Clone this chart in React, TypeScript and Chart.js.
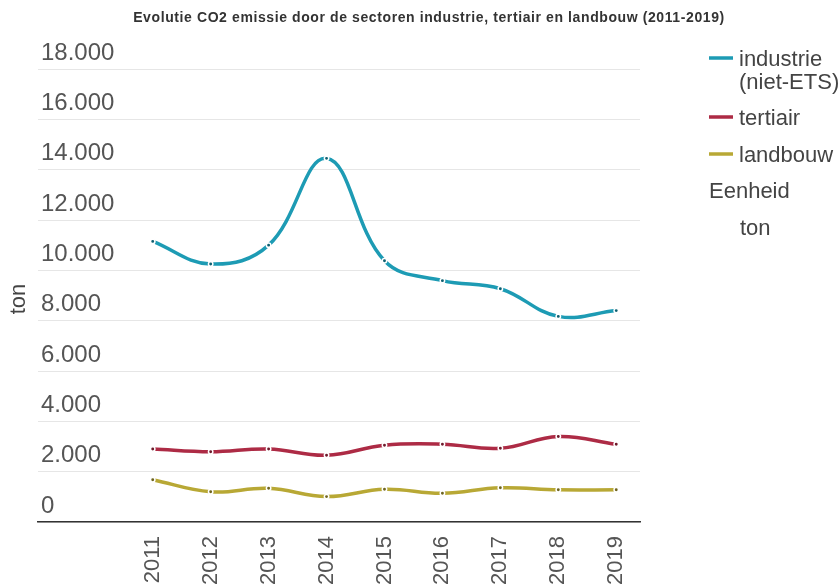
import React, { useEffect, useRef } from "react";
import { Chart, registerables } from "chart.js";

Chart.register(...registerables);

// Emissions per sector, in tonnes CO2
const years = [2011, 2012, 2013, 2014, 2015, 2016, 2017, 2018, 2019];
const industrie = [11150, 10250, 11000, 14450, 10380, 9590, 9270, 8170, 8400];
const tertiair = [2900, 2790, 2900, 2650, 3050, 3090, 2930, 3400, 3090];
const landbouw = [1680, 1200, 1340, 1010, 1300, 1140, 1360, 1280, 1280];
const yTicks = [0, 2000, 4000, 6000, 8000, 10000, 12000, 14000, 16000, 18000];

const seriesNames = ["industrie (niet-ETS)", "tertiair", "landbouw"];
const seriesColors = ["#1d9bb4", "#ad2b45", "#b8a835"];
const pointColors = ["#0f5f70", "#6e1a2b", "#6e6420"];

const titleText =
  "Evolutie CO2 emissie door de sectoren industrie, tertiair en landbouw (2011-2019)";
const unitHeading = "Eenheid";
const unitText = "ton";

const FONT = "'Liberation Sans', Arial, Helvetica, sans-serif";

const fmtThousands = (v: number) =>
  String(Math.round(v)).replace(/\B(?=(\d{3})+(?!\d))/g, ".");

const decorPlugin = {
  id: "decor",
  afterDraw(chart: Chart) {
    const ctx = chart.ctx as any;
    ctx.save();

    // title
    ctx.font = `bold 14px ${FONT}`;
    ctx.letterSpacing = "0.6px";
    ctx.fillStyle = "#333333";
    ctx.textAlign = "center";
    ctx.textBaseline = "middle";
    ctx.fillText(titleText, 429, 18);
    ctx.letterSpacing = "0px";

    // y axis title
    ctx.save();
    ctx.translate(19, 299);
    ctx.rotate(-Math.PI / 2);
    ctx.font = `22px ${FONT}`;
    ctx.fillStyle = "#444444";
    ctx.textAlign = "center";
    ctx.textBaseline = "middle";
    ctx.fillText(unitText, 0, 0);
    ctx.restore();

    // legend
    ctx.font = `22px ${FONT}`;
    ctx.textAlign = "left";
    ctx.textBaseline = "alphabetic";
    const symY = [58, 117, 154];
    const textLines = [["industrie", "(niet-ETS)"], ["tertiair"], ["landbouw"]];
    const baseY = [[66, 89], [125], [162]];
    seriesNames.forEach((_, i) => {
      ctx.strokeStyle = seriesColors[i];
      ctx.lineWidth = 3.5;
      ctx.beginPath();
      ctx.moveTo(709, symY[i]);
      ctx.lineTo(733, symY[i]);
      ctx.stroke();
      ctx.fillStyle = "#444444";
      textLines[i].forEach((t, j) => ctx.fillText(t, 739, baseY[i][j]));
    });
    ctx.fillText(unitHeading, 709, 198);
    ctx.fillText(unitText, 740, 235);

    ctx.restore();
  },
};

export default function App() {
  const canvasRef = useRef<HTMLCanvasElement | null>(null);

  useEffect(() => {
    if (!canvasRef.current) return;
    const seriesValues = [industrie, tertiair, landbouw];
    const chart = new Chart(canvasRef.current, {
      type: "line",
      data: {
        datasets: seriesValues.map((vals, i) => ({
          label: seriesNames[i],
          data: years.map((y, k) => ({ x: y, y: vals[k] })),
          borderColor: seriesColors[i],
          backgroundColor: seriesColors[i],
          borderWidth: 3.5,
          tension: 0.4,
          pointRadius: 2.2,
          pointBorderWidth: 1.5,
          pointBorderColor: "#ffffff",
          pointBackgroundColor: pointColors[i],
          fill: false,
        })),
      },
      options: {
        responsive: false,
        animation: false,
        layout: { padding: { left: 38, right: 200, top: 69, bottom: 0 } },
        plugins: {
          legend: { display: false },
          title: { display: false },
          tooltip: { enabled: false },
        },
        scales: {
          x: {
            type: "linear",
            min: 2009.02,
            max: 2019.41,
            afterBuildTicks: (scale: any) => {
              scale.ticks = years.map((v) => ({ value: v }));
            },
            afterFit: (scale: any) => {
              scale.height = 63;
            },
            grid: { display: false, drawTicks: false },
            border: { display: true, color: "#333333", width: 1.5 },
            ticks: {
              autoSkip: false,
              minRotation: 90,
              maxRotation: 90,
              padding: 14,
              color: "#555555",
              font: { family: FONT, size: 22 },
              callback: (v: any) => String(v),
            },
          },
          y: {
            min: 0,
            max: 18000,
            afterBuildTicks: (scale: any) => {
              scale.ticks = yTicks.map((v) => ({ value: v }));
            },
            afterFit: (scale: any) => {
              scale.width = 0;
            },
            grid: { color: "#e6e6e6", lineWidth: 1, drawTicks: false },
            border: { display: false },
            ticks: {
              mirror: true,
              padding: 3,
              labelOffset: -16,
              color: "#555555",
              font: { family: FONT, size: 24 },
              callback: (v: any) => fmtThousands(Number(v)),
            },
          },
        },
      },
      plugins: [decorPlugin],
    });
    return () => chart.destroy();
  }, []);

  return (
    <div
      style={{
        position: "absolute",
        left: 0,
        top: 0,
        width: 840,
        height: 585,
        background: "#ffffff",
        overflow: "hidden",
      }}
    >
      <canvas ref={canvasRef} width={840} height={585} style={{ width: 840, height: 585 }} />
    </div>
  );
}
